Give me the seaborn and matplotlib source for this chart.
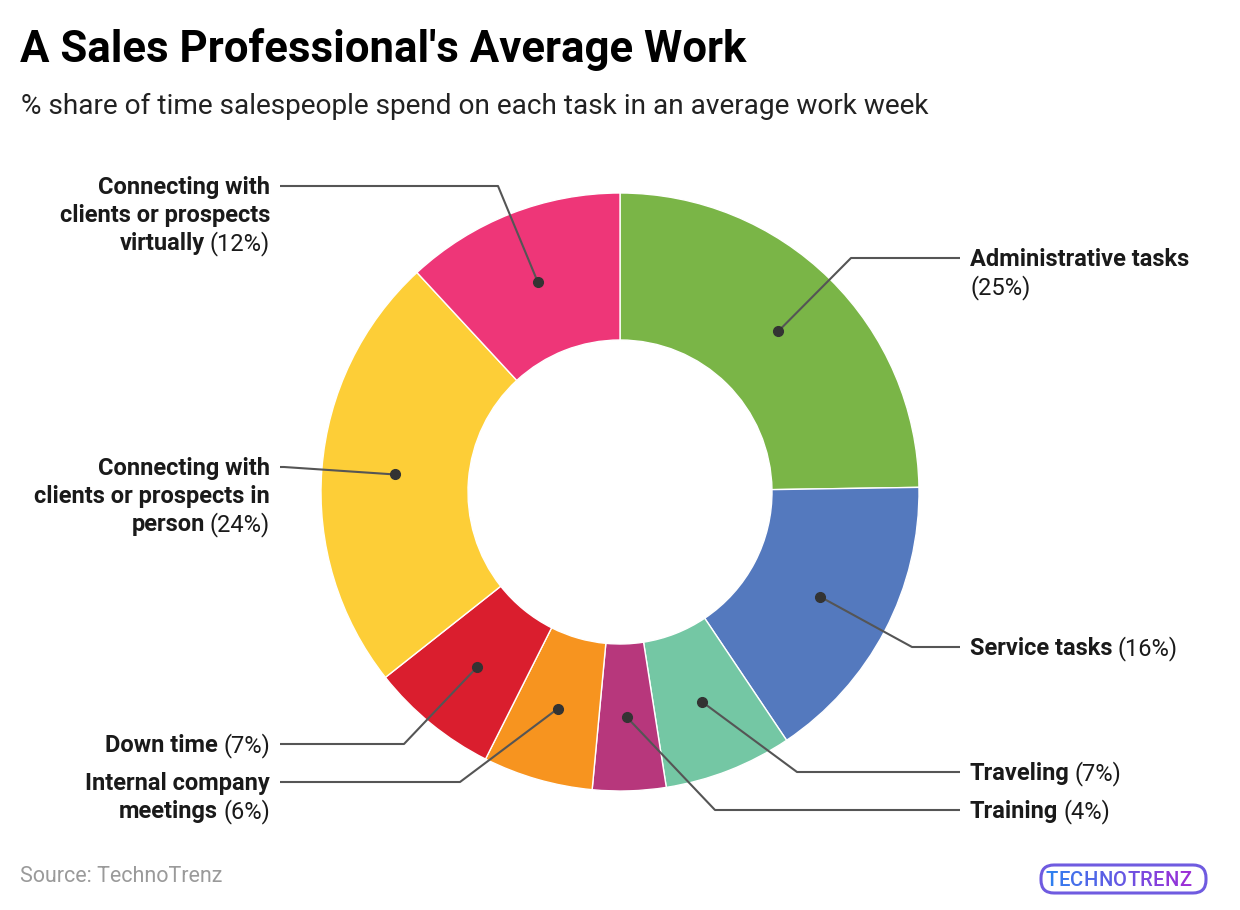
import numpy as np
import matplotlib
matplotlib.use("Agg")
import matplotlib.pyplot as plt
from matplotlib.patches import FancyBboxPatch
import seaborn as sns

# ---------------- data ----------------
categories = [
    "Administrative tasks",
    "Service tasks",
    "Traveling",
    "Training",
    "Internal company meetings",
    "Down time",
    "Connecting with clients or prospects in person",
    "Connecting with clients or prospects virtually",
]
values = [25, 16, 7, 4, 6, 7, 24, 12]
colors = ["#7AB547", "#5479BE", "#74C7A4", "#B7377C",
          "#F7941F", "#DA1E2E", "#FDCE37", "#EE3678"]

# label wrapping (display text) and separator before the percent
label_text = [
    "Administrative tasks",
    "Service tasks",
    "Traveling",
    "Training",
    "Internal company\nmeetings",
    "Down time",
    "Connecting with\nclients or prospects in\nperson",
    "Connecting with\nclients or prospects\nvirtually",
]
pct_sep = ["\n", " ", " ", " ", " ", " ", " ", " "]

# ---------------- layout (pixels) ----------------
side = ["R", "R", "R", "R", "L", "L", "L", "L"]
label_y = [258, 647, 772, 810, 782, 744, 467, 186]
elbow_x = [851, 912, 797, 715, 460, 404, 284, 498]
W, H = 1240, 910
cx, cy = 620, 492
R_out, R_in = 299, 152
line_h = 28
fs_lab = 17

sns.set_theme(style="white")
plt.rcParams["font.family"] = ["Roboto", "DejaVu Sans"]

fig = plt.figure(figsize=(W / 100, H / 100), dpi=100)
ax = fig.add_axes([0, 0, 1, 1])
pal = sns.color_palette(colors)

wedges, _ = ax.pie(values, colors=pal, startangle=270, counterclock=True,
                   center=(cx, cy), radius=R_out,
                   wedgeprops=dict(width=R_out - R_in, edgecolor="white", linewidth=1))
ax.set_xlim(0, W)
ax.set_ylim(H, 0)
ax.set_aspect("equal")
ax.axis("off")

renderer = fig.canvas.get_renderer()
r_dot = (R_out + R_in) / 2
line_col = "#555555"
txt_col = "#1a1a1a"

for i, w in enumerate(wedges):
    mid = np.deg2rad((w.theta1 + w.theta2) / 2)
    dx, dy = cx + r_dot * np.cos(mid), cy + r_dot * np.sin(mid)
    ex, ey = elbow_x[i], label_y[i]
    if side[i] == "R":
        end_x, tx = 960, 970
    else:
        end_x, tx = 280, 270
    ax.plot([dx, ex, end_x], [dy, ey, ey], color=line_col, lw=1.5,
            solid_capstyle="butt", zorder=3)
    ax.plot([dx], [dy], "o", color="#333333", ms=7, zorder=4)

    # build lines with bold name + regular percent
    name_lines = label_text[i].split("\n")
    pct = f"({values[i]}%)"
    lines = [[(ln, "bold")] for ln in name_lines]
    if pct_sep[i] == "\n":
        lines.append([(pct, "normal")])
    else:
        lines[-1].append((pct, "normal"))
    for k, segs in enumerate(lines):
        y = label_y[i] + 1.5 + k * line_h
        if side[i] == "R":
            x = tx
            for j, (s, wt) in enumerate(segs):
                t = ax.text(x, y, s, ha="left", va="center", fontsize=fs_lab,
                            fontweight=wt, color=txt_col)
                x += t.get_window_extent(renderer).width + 5
        else:
            x = tx
            for j, (s, wt) in enumerate(reversed(segs)):
                t = ax.text(x, y, s, ha="right", va="center", fontsize=fs_lab,
                            fontweight=wt, color=txt_col)
                x -= t.get_window_extent(renderer).width + 5

# titles
ax.text(20, 62, "A Sales Professional's Average Work", ha="left", va="baseline",
        fontsize=31.5, fontweight="bold", color="#000000")
ax.text(21, 114, "% share of time salespeople spend on each task in an average work week",
        ha="left", va="baseline", fontsize=20.2, color="#222222")
ax.text(20, 877, "Source: TechnoTrenz", ha="left", va="center", fontsize=15.5,
        color="#9a9a9a")

# logo
box = FancyBboxPatch((1041, 865), 165, 28, boxstyle="round,pad=0,rounding_size=13",
                     fc="none", ec="#6f5be0", lw=2.2, zorder=5)
ax.add_patch(box)
logo = "TECHNOTRENZ"
c1 = np.array(matplotlib.colors.to_rgb("#2f7fef"))
c2 = np.array(matplotlib.colors.to_rgb("#9b2fd6"))
x = 1046
for k, ch in enumerate(logo):
    c = c1 + (c2 - c1) * k / (len(logo) - 1)
    t = ax.text(x, 880, ch, ha="left", va="center", fontsize=14.5,
                fontweight="medium", color=c, family=["Roboto", "DejaVu Sans"], zorder=6)
    x += t.get_window_extent(renderer).width + 0.3

fig.savefig("out.png", dpi=100)
